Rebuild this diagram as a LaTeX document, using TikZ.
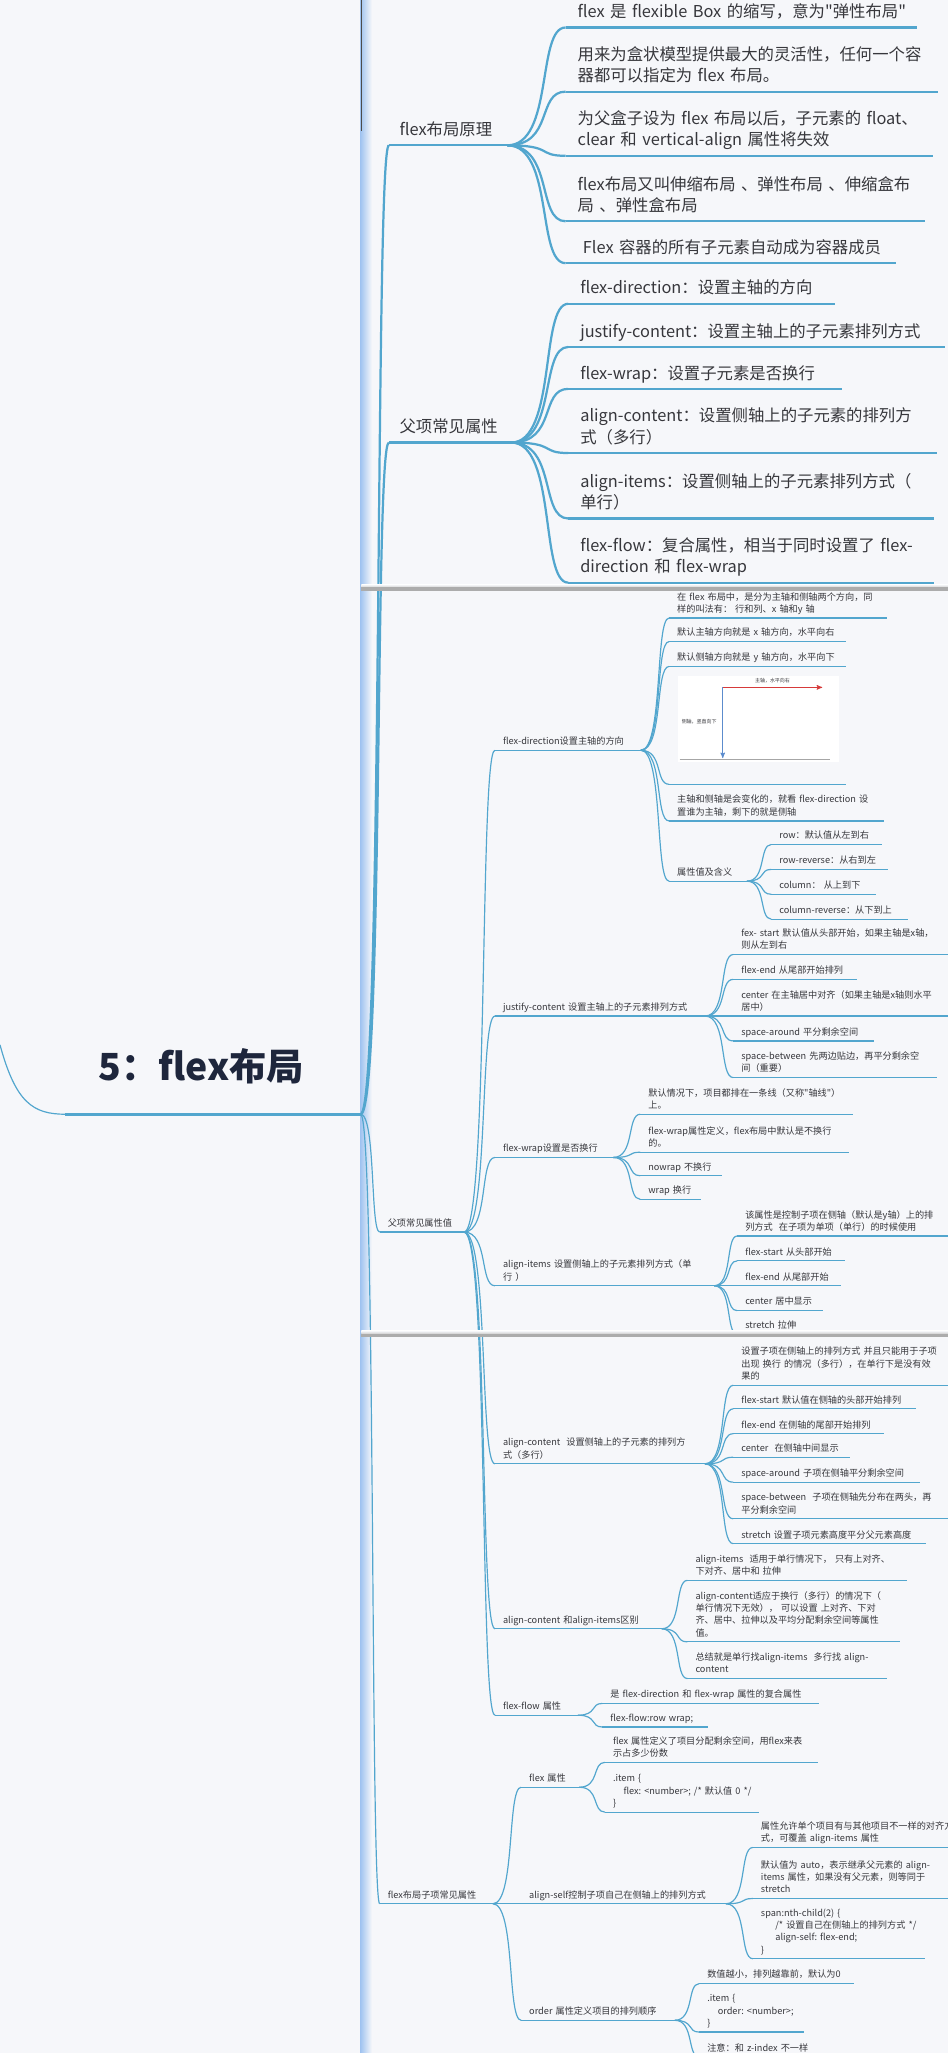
\documentclass[tikz,border=0pt]{standalone}
\usepackage{fontspec}
\setmainfont{Noto Sans CJK SC}[Ligatures=TeXOff]
\usepackage{tikz}
\usetikzlibrary{arrows,calc}

\definecolor{paper}{RGB}{246,247,250}
\definecolor{branch}{RGB}{82,166,206}
\definecolor{ink}{RGB}{55,55,60}
\definecolor{navy}{RGB}{30,38,60}
\definecolor{barblue}{RGB}{158,194,240}
\definecolor{axisred}{RGB}{214,58,58}
\definecolor{axisblue}{RGB}{92,140,205}

\hyphenpenalty=10000
\exhyphenpenalty=10000

\begin{document}
\begin{tikzpicture}[x=1pt,y=-1pt,
	every node/.style={anchor=south west,align=left,text=ink,execute at end node=\strut},
	big/.style={font=\fontsize{12.5}{16.3}\selectfont,inner xsep=9pt,inner ysep=2.4pt},
	small/.style={font=\fontsize{7}{9.4}\selectfont,inner xsep=6pt,inner ysep=1.3pt},
	thick link/.style={draw=branch,line width=1.7pt},
	thin link/.style={draw=branch,line width=0.9pt},
	curve/.style={to path={.. controls ($(\tikztostart)!0.8!(\tikztotarget|-\tikztostart)$)
		and ($(\tikztostart|-\tikztotarget)!0.5!(\tikztotarget)$) .. (\tikztotarget)}}]

\useasboundingbox (0,0) rectangle (724,1568);
\clip (0,0) rectangle (724,1568);
\fill[paper] (0,0) rectangle (724,1568);
\shade[left color=barblue,right color=paper] (275,0) rectangle (284,1568);
\draw[gray!60!black,line width=0.5pt] (276,0) -- (276,100);

% root
\node[font=\fontsize{28.5}{34}\selectfont\bfseries,text=navy,inner xsep=25pt,inner ysep=15pt,text width=175pt] (root) at (50,851) {5：flex布局};

% flex布局原理
\node[big,inner xsep=8pt,text width=74pt] (a1) at (297,111) {flex布局原理};
\node[big,text width=250pt] (p1) at (432,21) {flex~是~flexible~Box~的缩写，意为"弹性布局"};
\node[big,text width=266pt] (p2) at (432,70) {用来为盒状模型提供最大的灵活性，任何一个容\\器都可以指定为~flex~布局。};
\node[big,text width=262pt] (p3) at (432,119) {为父盒子设为~flex~布局以后，子元素的~float、\\clear~和~vertical-align~属性将失效};
\node[big,text width=256pt] (p4) at (432,169) {flex布局又叫伸缩布局~、弹性布局~、伸缩盒布\\局~、弹性盒布局};
\node[big,text width=234pt] (p5) at (432,201) {\hspace*{4pt}Flex~容器的所有子元素自动成为容器成员};

% 父项常见属性
\node[big,inner xsep=8pt,text width=77pt] (a2) at (297,338) {父项常见属性};
\node[big,text width=185pt] (q1) at (434,232) {flex-direction：设置主轴的方向};
\node[big,text width=269pt] (q2) at (434,265) {justify-content：设置主轴上的子元素排列方式};
\node[big,text width=191pt] (q3) at (434,297) {flex-wrap：设置子元素是否换行};
\node[big,text width=263pt] (q4) at (434,346) {align-content：设置侧轴上的子元素的排列方\\式（多行）};
\node[big,text width=261pt] (q5) at (434,396) {align-items：设置侧轴上的子元素排列方式（\\单行）};
\node[big,text width=261pt] (q6) at (434,445) {flex-flow：复合属性，相当于同时设置了~flex-\\direction~和~flex-wrap};

% 父项常见属性值
\node[small,text width=52pt] (b1) at (290,941) {父项常见属性值};
\node[small,text width=99pt] (c1) at (378,573) {flex-direction设置主轴的方向};
\node[small,text width=148pt] (c2) at (378,776) {justify-content~设置主轴上的子元素排列方式};
\node[small,text width=78pt] (c3) at (378,884) {flex-wrap设置是否换行};
\node[small,text width=155pt] (c4) at (378,982) {align-items~设置侧轴上的子元素排列方式（单\\行~）};
\node[small,text width=148pt] (c5) at (378,1118) {align-content~~设置侧轴上的子元素的排列方\\式（多行）};
\node[small,text width=115pt] (c6) at (378,1244) {align-content~和align-items区别};
\node[small,text width=51pt] (c7) at (378,1310) {flex-flow~属性};

\node[small,text width=154pt] (d1) at (511,472) {在~flex~布局中，是分为主轴和侧轴两个方向，同\\样的叫法有：~行和列、x~轴和y~轴};
\node[small,text width=123pt] (d2) at (511,490) {默认主轴方向就是~x~轴方向，水平向右};
\node[small,text width=123pt] (d3) at (511,509) {默认侧轴方向就是~y~轴方向，水平向下};
\node[small,text width=123pt,minimum height=85pt] (d4) at (511,599) {};
\node[small,text width=152pt] (d5) at (511,627) {主轴和侧轴是会变化的，就看~flex-direction~设\\置谁为主轴，剩下的就是侧轴};
\node[small,text width=47pt] (d6) at (511,673) {属性值及含义};
\node[small,text width=72pt] (e1) at (589,645) {row：默认值从左到右};
\node[small,text width=77pt] (e2) at (589,664) {row-reverse：从右到左};
\node[small,text width=68pt] (e3) at (589,683) {column：~从上到下};
\node[small,text width=92pt] (e4) at (589,702) {column-reverse：从下到上};

\node[small,text width=158pt] (f1) at (560,729) {fex-~start~默认值从头部开始，如果主轴是x轴，\\则从左到右};
\node[small,text width=82pt] (f2) at (560,748) {flex-end~从尾部开始排列};
\node[small,text width=158pt] (f3) at (560,776) {center~在主轴居中对齐（如果主轴是x轴则水平\\居中）};
\node[small,text width=95pt] (f4) at (560,795) {space-around~平分剩余空间};
\node[small,text width=143pt] (f5) at (560,823) {space-between~先两边贴边，再平分剩余空\\间（重要）};

\node[small,text width=150pt] (g1) at (489,851) {默认情况下，项目都排在一条线（又称"轴线"）\\上。};
\node[small,text width=147pt] (g2) at (489,880) {flex-wrap属性定义，flex布局中默认是不换行\\的。};
\node[small,text width=50pt] (g3) at (489,898) {nowrap~不换行};
\node[small,text width=34pt] (g4) at (489,916) {wrap~换行};

\node[small,text width=155pt] (h1) at (563,944) {该属性是控制子项在侧轴（默认是y轴）上的排\\列方式~~在子项为单项（单行）的时候使用};
\node[small,text width=70pt] (h2) at (563,963) {flex-start~从头部开始};
\node[small,text width=67pt] (h3) at (563,982) {flex-end~从尾部开始};
\node[small,text width=53pt] (h4) at (563,1001) {center~居中显示};
\node[small,text width=42pt] (h5) at (563,1019) {stretch~拉伸};

\node[small,text width=158pt] (i1) at (560,1058) {设置子项在侧轴上的排列方式~并且只能用于子项\\出现~换行~的情况（多行），在单行下是没有效\\果的};
\node[small,text width=127pt] (i2) at (560,1076) {flex-start~默认值在侧轴的头部开始排列};
\node[small,text width=103pt] (i3) at (560,1095) {flex-end~在侧轴的尾部开始排列};
\node[small,text width=77pt] (i4) at (560,1113) {center~~在侧轴中间显示};
\node[small,text width=130pt] (i5) at (560,1132) {space-around~子项在侧轴平分剩余空间};
\node[small,text width=158pt] (i6) at (560,1160) {space-between~~子项在侧轴先分布在两头，再\\平分剩余空间};
\node[small,text width=135pt] (i7) at (560,1179) {stretch~设置子项元素高度平分父元素高度};

\node[small,text width=155pt] (j1) at (525,1207) {align-items~~适用于单行情况下，~只有上对齐、\\下对齐、居中和~拉伸};
\node[small,text width=150pt] (j2) at (525,1254) {align-content适应于换行（多行）的情况下（\\单行情况下无效），~可以设置~上对齐、下对\\齐、居中、拉伸以及平均分配剩余空间等属性\\值。};
\node[small,text width=140pt] (j3) at (525,1282) {总结就是单行找align-items~~多行找~align-\\content};

\node[small,text width=153pt] (k1) at (460,1301) {是~flex-direction~和~flex-wrap~属性的复合属性};
\node[small,text width=68pt] (k2) at (460,1319) {flex-flow:row~wrap;};

% flex布局子项常见属性
\node[small,text width=74pt] (b2) at (290,1454) {flex布局子项常见属性};
\node[small,text width=32pt] (l1) at (398,1365) {flex~属性};
\node[small,text width=144pt] (l2) at (398,1454) {align-self控制子项自己在侧轴上的排列方式};
\node[small,text width=105pt] (l3) at (398,1543) {order~属性定义项目的排列顺序};
\node[small,text width=150pt] (m1) at (462,1346) {flex~属性定义了项目分配剩余空间，用flex来表\\示占多少份数};
\node[small,text width=105pt] (m2) at (462,1384) {.item~\{\\\hspace*{8pt}flex:~<number>;~/*~默认值~0~*/\\\}};
\node[small,text width=143pt] (n1) at (575,1411) {属性允许单个项目有与其他项目不一样的对齐方\\式，可覆盖~align-items~属性};
\node[small,text width=143pt] (n2) at (575,1450) {默认值为~auto，表示继承父元素的~align-\\items~属性，如果没有父元素，则等同于\\stretch};
\node[small,text width=119pt] (n3) at (575,1496) {span:nth-child(2)~\{\\\hspace*{11pt}/*~设置自己在侧轴上的排列方式~*/\\\hspace*{11pt}align-self:~flex-end;\\\}};
\node[small,text width=106pt] (o1) at (534,1515) {数值越小，排列越靠前，默认为0};
\node[small,text width=68pt] (o2) at (534,1552) {.item~\{\\\hspace*{8pt}order:~<number>;\\\}};
\node[small,text width=114pt] (o3) at (534,1571) {注意：和~z-index~不一样};

% underlines
\draw[branch,line width=2.5pt] (root.south west) -- (root.south east);
\foreach \n in {a1,a2,p1,p2,p3,p4,p5,q1,q2,q3,q4,q5,q6}
	\draw[thick link] (\n.south west) -- (\n.south east);
\foreach \n in {b1,b2,c1,c2,c3,c4,c5,c6,c7,d1,d2,d3,d4,d5,d6,e1,e2,e3,e4,f1,f2,f3,f4,f5,
	g1,g2,g3,g4,h1,h2,h3,h4,h5,i1,i2,i3,i4,i5,i6,i7,j1,j2,j3,k1,k2,l1,l2,l3,m1,m2,n1,n2,n3,o1,o2,o3}
	\draw[thin link] (\n.south west) -- (\n.south east);

% branches
\coordinate (up) at (0,798);
\draw[thin link] (up) .. controls (12,842) and (25,851) .. (root.south west);
\foreach \c in {a1,a2} \draw[thick link] (root.south east) to[curve] (\c.south west);
\foreach \c in {b1,b2} \draw[thin link] (root.south east) to[curve] (\c.south west);
\foreach \c in {p1,p2,p3,p4,p5} \draw[thick link] (a1.south east) to[curve] (\c.south west);
\foreach \c in {q1,q2,q3,q4,q5,q6} \draw[thick link] (a2.south east) to[curve] (\c.south west);
\foreach \c in {c1,c2,c3,c4,c5,c6,c7} \draw[thin link] (b1.south east) to[curve] (\c.south west);
\foreach \c in {d1,d2,d3,d4,d5,d6} \draw[thin link] (c1.south east) to[curve] (\c.south west);
\foreach \c in {e1,e2,e3,e4} \draw[thin link] (d6.south east) to[curve] (\c.south west);
\foreach \c in {f1,f2,f3,f4,f5} \draw[thin link] (c2.south east) to[curve] (\c.south west);
\foreach \c in {g1,g2,g3,g4} \draw[thin link] (c3.south east) to[curve] (\c.south west);
\foreach \c in {h1,h2,h3,h4,h5} \draw[thin link] (c4.south east) to[curve] (\c.south west);
\foreach \c in {i1,i2,i3,i4,i5,i6,i7} \draw[thin link] (c5.south east) to[curve] (\c.south west);
\foreach \c in {j1,j2,j3} \draw[thin link] (c6.south east) to[curve] (\c.south west);
\foreach \c in {k1,k2} \draw[thin link] (c7.south east) to[curve] (\c.south west);
\foreach \c in {l1,l2,l3} \draw[thin link] (b2.south east) to[curve] (\c.south west);
\foreach \c in {m1,m2} \draw[thin link] (l1.south east) to[curve] (\c.south west);
\foreach \c in {n1,n2,n3} \draw[thin link] (l2.south east) to[curve] (\c.south west);
\foreach \c in {o1,o2,o3} \draw[thin link] (l3.south east) to[curve] (\c.south west);

% axis picture
\fill[white] (518,516) rectangle (641,582);
\draw[gray!70,line width=0.8pt] (519,580) -- (634,580);
\coordinate (corner) at (552,525);
\coordinate (mainend) at (628,525);
\coordinate (sideend) at (552,579);
\draw[->,>=stealth',axisred,line width=0.6pt] (corner) -- (mainend);
\draw[->,>=stealth',axisblue,line width=0.6pt] (corner) -- (sideend);
\node[font=\fontsize{3.8}{4.5}\selectfont,anchor=south,inner sep=0.5pt] (mainlbl) at (590,523) {主轴，水平向右};
\node[font=\fontsize{3.8}{4.5}\selectfont,anchor=west,inner sep=0.5pt] (sidelbl) at (520,552) {侧轴，竖直向下};

% screen edges
\foreach \y in {449,1019} {
	\shade[top color=paper,bottom color=gray!35] (276,\y-2.5) rectangle (724,\y-0.5);
	\fill[gray!65] (276,\y-0.5) rectangle (724,\y+2);
}

\end{tikzpicture}
\end{document}
